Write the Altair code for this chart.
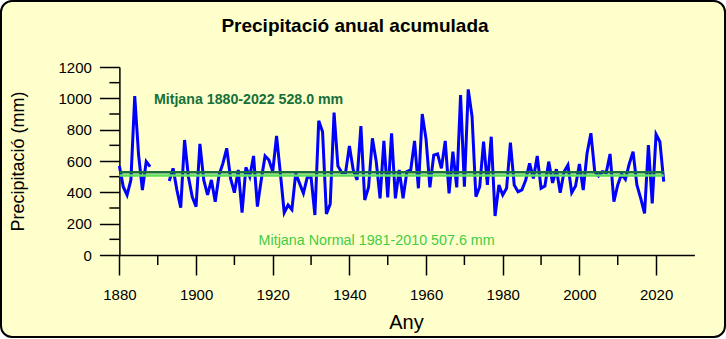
import altair as alt
import pandas as pd

# ---- data ----
years = list(range(1880, 2023))
precip = [
    568, 436, 383, 479, 1015, 640, 415, 596, 564,          # 1880-1888
    None, None, None, None,                                  # 1889-1892 (no data)
    472, 553, 415, 302, 734, 500, 372,                       # 1893-1899
    309, 709, 479, 383, 479, 340, 511, 585, 681, 489,        # 1900s
    398, 543, 270, 560, 500, 632, 309, 479, 632, 606,        # 1910s
    532, 760, 520, 270, 319, 290, 521, 457, 394, 496,        # 1920s
    496, 255, 857, 787, 262, 326, 909, 568, 526, 526,        # 1930s
    696, 543, 479, 823, 351, 432, 745, 596, 362, 728,        # 1940s
    368, 777, 362, 543, 362, 532, 543, 728, 426, 900,        # 1950s
    738, 432, 638, 645, 553, 728, 394, 660, 432, 1021,       # 1960s
    436, 1057, 883, 372, 436, 723, 447, 755, 249, 447,       # 1970s
    383, 426, 717, 447, 404, 415, 479, 585, 489, 632,        # 1980s
    426, 440, 596, 460, 548, 398, 532, 574, 398, 440,        # 1990s
    581, 415, 649, 777, 532, 504, 532, 526, 645, 340,        # 2000s
    447, 517, 483, 581, 660, 447, 362, 266, 702, 330,        # 2010s
    770, 723, 468,                                           # 2020-2022
]
mean_names = ["Mitjana 1880-2022", "Mitjana Normal 1981-2010"]
mean_values = [528.0, 507.6]
mean_start = [1880, 1880]
mean_end = [2022, 2022]
mean_labels = ["Mitjana 1880-2022 528.0 mm", "Mitjana Normal 1981-2010 507.6 mm"]
label_year = [1913.7, 1947.1]
label_value = [987, 89]

# axis tick values
x_major = list(range(1880, 2021, 20))
x_minor = list(range(1890, 2021, 20))
y_major = list(range(0, 1201, 200))
y_minor = list(range(100, 1201, 200))

# ---- build tables ----
df = pd.DataFrame({"year": years, "precip": precip})
df["seg"] = df["precip"].isna().cumsum()
df = df.dropna()

means = pd.DataFrame({
    "name": mean_names, "value": mean_values,
    "x1": mean_start, "x2": mean_end,
    "label": mean_labels, "ly": label_value, "lx": label_year,
})

FONT = "Liberation Sans"
DARK = "#17703a"
LIGHT = "#5ae05a"
LIGHT_TXT = "#44cc44"

# whole framed panel is the view; the plot region is set through the scale ranges
VW, VH = 724, 336          # view size (panel inside the rounded border)
OX, OY = 1, 1              # view origin on the page
X0, X1 = 119.4 - OX, 694.4 - OX   # pixel range for 1880 .. 2030
Y0, Y1 = 255 - OY, 67 - OY        # pixel range for 0 .. 1200
MAJOR, MINOR = 20, 10

xscale = alt.Scale(domain=[1880, 2030], range=[X0, X1], nice=False, zero=False)
yscale = alt.Scale(domain=[0, 1200], range=[Y0, Y1], nice=False)

line = alt.Chart(df).mark_line(color="#0000ff", strokeWidth=3).encode(
    x=alt.X("year:Q", scale=xscale, axis=alt.Axis(
        values=x_major, format="d", labelFlush=False,
        tickSize=MAJOR, labelPadding=12, labelFontSize=15,
        offset=-(VH - Y0),
        title="Any", titleFontSize=20, titleFontWeight="normal",
        titleX=406 - OX, titleY=67, titleBaseline="middle",
    )),
    y=alt.Y("precip:Q", scale=yscale, axis=alt.Axis(
        values=y_major, format="d", labelFlush=False,
        tickSize=MAJOR, labelPadding=8, labelFontSize=15,
        offset=-X0,
        title="Precipitació (mm)", titleFontSize=18, titleFontWeight="normal",
        titleX=18 - 119.4, titleY=161 - OY, titleBaseline="middle", titleAngle=-90,
    )),
    detail="seg:N",
)

minor_x = alt.Chart(pd.DataFrame({"v": x_minor})).mark_rule(color="#000000", strokeWidth=1.5).encode(
    x=alt.X("v:Q", scale=xscale), y=alt.value(Y0), y2=alt.value(Y0 + MINOR),
)
minor_y = alt.Chart(pd.DataFrame({"v": y_minor})).mark_rule(color="#000000", strokeWidth=1.5).encode(
    y=alt.Y("v:Q", scale=yscale), x=alt.value(X0 - MINOR), x2=alt.value(X0),
)

rules = alt.Chart(means).mark_rule(strokeWidth=2.5).encode(
    x="x1:Q", x2="x2:Q", y="value:Q",
    color=alt.Color("name:N", scale=alt.Scale(domain=mean_names, range=[DARK, LIGHT]), legend=None),
)

txt_dark = alt.Chart(means.iloc[[0]]).mark_text(
    font=FONT, fontSize=14.2, fontWeight="bold", color=DARK
).encode(x="lx:Q", y="ly:Q", text="label:N")
txt_light = alt.Chart(means.iloc[[1]]).mark_text(
    font=FONT, fontSize=14.3, color=LIGHT_TXT
).encode(x="lx:Q", y="ly:Q", text="label:N")

chart = alt.layer(line, minor_x, minor_y, rules, txt_dark, txt_light).properties(
    width=VW, height=VH,
    title=alt.TitleParams("Precipitació anual acumulada", font=FONT, fontSize=19,
                          fontWeight="bold", color="#000000", anchor="middle",
                          frame="group", dx=-8, offset=-50, baseline="alphabetic"),
    autosize=alt.AutoSizeParams(type="none"),
    padding={"left": OX, "top": OY, "right": 726 - OX - VW, "bottom": 339 - OY - VH},
    background="#ffffff",
).configure_view(
    fill="#ffffcc", stroke="#000000", strokeWidth=2, cornerRadius=11,
).configure_axis(
    grid=False, domainColor="#000000", tickColor="#000000", domainWidth=1.5, tickWidth=1.5,
    labelFont=FONT, titleFont=FONT, labelColor="#000000", titleColor="#000000",
)

chart.save("out.html", embed_options={"renderer": "svg", "actions": False})
